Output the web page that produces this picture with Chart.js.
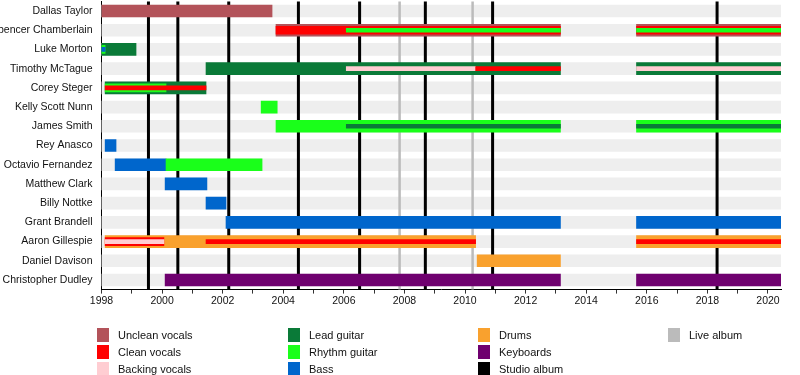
<!DOCTYPE html>
<html>
<head>
<meta charset="utf-8">
<script src="https://cdn.jsdelivr.net/npm/chart.js@4/dist/chart.umd.min.js"></script>
<style>
  html, body { margin: 0; padding: 0; background: #fff; }
  #wrap { position: relative; width: 800px; height: 375px; }
  canvas { position: absolute; left: 0; top: 0; }
  .lg { position: absolute; font: 11px "Liberation Sans", Arial, sans-serif; color: #111; white-space: nowrap; }
  .sw { position: absolute; width: 12px; height: 14px; }
</style>
</head>
<body>
<div id="wrap">
  <canvas id="c" width="800" height="375"></canvas>
  <div id="legend"></div>
</div>
<script>
// ---------- DATA ----------
const members = [
  'Dallas Taylor', 'Spencer Chamberlain', 'Luke Morton', 'Timothy McTague', 'Corey Steger',
  'Kelly Scott Nunn', 'James Smith', 'Rey Anasco', 'Octavio Fernandez', 'Matthew Clark',
  'Billy Nottke', 'Grant Brandell', 'Aaron Gillespie', 'Daniel Davison', 'Christopher Dudley'
];
const startYear = 1998;
const endYear = 2020.43;

// [member, role, from, to]
const primaryRoles = [
  ['Dallas Taylor', 'Unclean vocals', 1998, 2003.63],
  ['Spencer Chamberlain', 'Unclean vocals', 2003.76, 2013.15],
  ['Spencer Chamberlain', 'Unclean vocals', 2015.66, 2020.43],
  ['Luke Morton', 'Lead guitar', 1998, 1999.14],
  ['Timothy McTague', 'Lead guitar', 2001.45, 2013.15],
  ['Timothy McTague', 'Lead guitar', 2015.66, 2020.43],
  ['Corey Steger', 'Lead guitar', 1998.12, 2001.45],
  ['Kelly Scott Nunn', 'Rhythm guitar', 2003.27, 2003.8],
  ['James Smith', 'Rhythm guitar', 2003.76, 2013.15],
  ['James Smith', 'Rhythm guitar', 2015.66, 2020.43],
  ['Rey Anasco', 'Bass', 1998.12, 1998.48],
  ['Octavio Fernandez', 'Bass', 1998.45, 2000.13],
  ['Octavio Fernandez', 'Rhythm guitar', 2000.13, 2003.3],
  ['Matthew Clark', 'Bass', 2000.1, 2001.48],
  ['Billy Nottke', 'Bass', 2001.45, 2002.11],
  ['Grant Brandell', 'Bass', 2002.11, 2013.15],
  ['Grant Brandell', 'Bass', 2015.66, 2020.43],
  ['Aaron Gillespie', 'Drums', 1998.12, 2010.35],
  ['Aaron Gillespie', 'Drums', 2015.66, 2020.43],
  ['Daniel Davison', 'Drums', 2010.4, 2013.15],
  ['Christopher Dudley', 'Keyboards', 2000.1, 2013.15],
  ['Christopher Dudley', 'Keyboards', 2015.66, 2020.43]
];
const secondaryRoles = [
  ['Spencer Chamberlain', 'Clean vocals', 2003.76, 2013.15],
  ['Spencer Chamberlain', 'Clean vocals', 2015.66, 2020.43],
  ['Luke Morton', 'Rhythm guitar', 1998, 1998.12],
  ['Corey Steger', 'Rhythm guitar', 1998.12, 2000.13],
  ['Aaron Gillespie', 'Clean vocals', 1998.12, 2000.06]
];
const tertiaryRoles = [
  ['Spencer Chamberlain', 'Rhythm guitar', 2006.08, 2013.15],
  ['Spencer Chamberlain', 'Rhythm guitar', 2015.66, 2020.43],
  ['Luke Morton', 'Bass', 1998, 1998.12],
  ['Timothy McTague', 'Backing vocals', 2006.08, 2010.35],
  ['Timothy McTague', 'Clean vocals', 2010.35, 2013.15],
  ['Timothy McTague', 'Backing vocals', 2015.66, 2020.43],
  ['Corey Steger', 'Clean vocals', 1998.12, 2001.45],
  ['James Smith', 'Lead guitar', 2006.08, 2013.15],
  ['James Smith', 'Lead guitar', 2015.66, 2020.43],
  ['Aaron Gillespie', 'Backing vocals', 1998.12, 2000.06],
  ['Aaron Gillespie', 'Clean vocals', 2001.45, 2010.35],
  ['Aaron Gillespie', 'Clean vocals', 2015.66, 2020.43]
];
const studioAlbums = [1999.55, 2000.52, 2002.2, 2004.5, 2006.52, 2008.69, 2010.91, 2018.32];
const liveAlbums = [2007.84, 2010.25];
const legendItems = [
  'Unclean vocals', 'Clean vocals', 'Backing vocals',
  'Lead guitar', 'Rhythm guitar', 'Bass',
  'Drums', 'Keyboards', 'Studio album',
  'Live album'
];

// ---------- STYLE ----------
const roleColors = {
  'Unclean vocals': '#b3535a',
  'Clean vocals': '#ff0000',
  'Backing vocals': '#ffcdd2',
  'Lead guitar': '#0a7a38',
  'Rhythm guitar': '#1aff1a',
  'Bass': '#0066cc',
  'Drums': '#f9a12e',
  'Keyboards': '#6f006f',
  'Studio album': '#000000',
  'Live album': '#bbbbbb'
};
const FONT = '"Liberation Sans", Arial, sans-serif';

function toPoints(list) {
  return list.map(r => ({ y: r[0], x: [r[2], r[3]], role: r[1] }));
}
const colorOf = ctx => (ctx.raw && roleColors[ctx.raw.role]) || '#000';

const bgData = members.map(m => ({ y: m, x: [startYear, endYear] }));

const albumLines = {
  id: 'albumLines',
  afterDatasetDraw(chart, args) {
    if (args.index !== 0) return;
    const xs = chart.scales.x, a = chart.chartArea, c = chart.ctx;
    c.save();
    c.lineWidth = 2.5; c.strokeStyle = roleColors['Live album'];
    liveAlbums.forEach(v => { const px = xs.getPixelForValue(v); c.beginPath(); c.moveTo(px, a.top); c.lineTo(px, a.bottom); c.stroke(); });
    c.lineWidth = 3; c.strokeStyle = roleColors['Studio album'];
    studioAlbums.forEach(v => { const px = xs.getPixelForValue(v); c.beginPath(); c.moveTo(px, a.top); c.lineTo(px, a.bottom); c.stroke(); });
    c.restore();
  }
};

new Chart(document.getElementById('c'), {
  type: 'bar',
  data: {
    labels: members,
    datasets: [
      { label: 'bg', data: bgData, backgroundColor: '#eeeeee', barThickness: 12, grouped: false, order: 10 },
      { label: 'primary', data: toPoints(primaryRoles), backgroundColor: colorOf, barThickness: 12, grouped: false, order: 3 },
      { label: 'secondary', data: toPoints(secondaryRoles), backgroundColor: colorOf, barThickness: 8, grouped: false, order: 2 },
      { label: 'tertiary', data: toPoints(tertiaryRoles), backgroundColor: colorOf, barThickness: 4, grouped: false, order: 1 }
    ]
  },
  options: {
    indexAxis: 'y',
    responsive: false,
    animation: false,
    devicePixelRatio: 1,
    layout: { autoPadding: false, padding: { top: 1.4, right: 19, bottom: 63.4, left: 0 } },
    plugins: { legend: { display: false }, tooltip: { enabled: false } },
    scales: {
      x: {
        type: 'linear',
        min: startYear,
        max: endYear,
        afterFit: s => { s.height = 22; s.paddingLeft = 0; s.paddingRight = 0; },
        border: { display: true, color: '#000', width: 1 },
        grid: { display: true, drawOnChartArea: false, drawTicks: true, tickLength: 4, color: '#333' },
        ticks: {
          stepSize: 1, includeBounds: false, autoSkip: false, maxRotation: 0, padding: 1,
          color: '#111', font: { family: FONT, size: 10.5 },
          callback: v => (Number.isInteger(v) && v % 2 === 0) ? String(v) : ''
        }
      },
      y: {
        type: 'category',
        z: 1,
        afterFit: s => { s.width = 101.5; s.paddingTop = 0; s.paddingBottom = 0; },
        border: { display: true, color: '#000', width: 1 },
        grid: { display: false, drawTicks: false },
        ticks: { padding: 9, color: '#111', font: { family: FONT, size: 10.5 }, autoSkip: false }
      }
    }
  },
  plugins: [albumLines]
});

// ---------- LEGEND ----------
const legendCols = [97, 288, 478, 668];
const legendRows = [335, 352, 369];
const lg = document.getElementById('legend');
legendItems.forEach((name, i) => {
  const col = Math.floor(i / 3), row = i % 3;
  const sw = document.createElement('div');
  sw.className = 'sw';
  sw.style.left = legendCols[col] + 'px';
  sw.style.top = (legendRows[row] - 7) + 'px';
  sw.style.background = roleColors[name];
  lg.appendChild(sw);
  const t = document.createElement('div');
  t.className = 'lg';
  t.textContent = name;
  t.style.left = (legendCols[col] + 21) + 'px';
  t.style.top = (legendRows[row] - 7) + 'px';
  t.style.lineHeight = '14px';
  lg.appendChild(t);
});
</script>
</body>
</html>
